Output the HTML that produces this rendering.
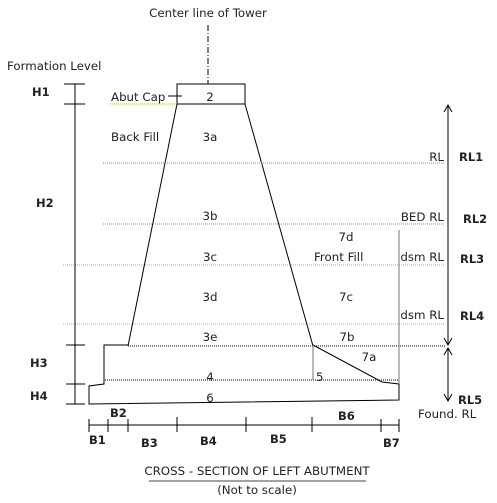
<!DOCTYPE html>
<html><head><meta charset="utf-8"><style>
html,body{margin:0;padding:0;background:#fff;}
svg{display:block;font-family:"DejaVu Sans","Liberation Sans",sans-serif;}
text{font-size:11.8px;fill:#222;}
.b{font-weight:bold;font-size:11.5px;}
</style></head><body>
<svg width="497" height="503" viewBox="0 0 497 503">
<g stroke="#000" stroke-width="1" fill="none">
<line x1="208" y1="25" x2="208" y2="84" stroke-dasharray="6,2,1,2"/>
<rect x="177" y="84" width="68" height="20"/>
<line x1="168" y1="96" x2="182" y2="96"/>
<line x1="110" y1="104" x2="177" y2="104" stroke="#9c3" stroke-dasharray="1,1"/>
<line x1="177" y1="104" x2="128" y2="346"/>
<line x1="245" y1="104" x2="313" y2="346"/>
<line x1="103" y1="163" x2="445" y2="163" stroke="#888" stroke-dasharray="1,1"/>
<line x1="103" y1="224" x2="445" y2="224" stroke="#888" stroke-dasharray="1,1"/>
<line x1="63" y1="265" x2="445" y2="265" stroke="#aab" stroke-dasharray="1,1"/>
<line x1="63" y1="324" x2="445" y2="324" stroke="#aab" stroke-dasharray="1,1"/>
<line x1="128" y1="346" x2="445" y2="346" stroke-dasharray="1,1"/>
<line x1="105" y1="380" x2="399" y2="380" stroke-dasharray="1,1"/>
<polyline points="128,345 104,345 104,384 89,386 89,404 399,400 399,384 382,382 313,345"/>
<line x1="313" y1="345" x2="313" y2="380" stroke="#777"/>
<line x1="399" y1="230" x2="399" y2="384" stroke="#777"/>
<line x1="75" y1="84" x2="75" y2="404"/>
<line x1="64" y1="84" x2="85" y2="84"/><line x1="64" y1="104" x2="85" y2="104"/>
<line x1="66" y1="345" x2="85" y2="345"/><line x1="66" y1="384" x2="85" y2="384"/><line x1="66" y1="404" x2="85" y2="404"/>
<line x1="448" y1="105" x2="448" y2="345"/>
<polyline points="444,112 448,105 452,112"/><polyline points="444,338 448,345 452,338"/>
<line x1="448" y1="348" x2="448" y2="401"/>
<polyline points="444,355 448,348 452,355"/><polyline points="444,394 448,401 452,394"/>
<line x1="89" y1="425" x2="399" y2="425"/>
<g>
<line x1="89" y1="419" x2="89" y2="432"/><line x1="108" y1="419" x2="108" y2="432"/>
<line x1="128" y1="419" x2="128" y2="432"/><line x1="177" y1="417" x2="177" y2="432"/>
<line x1="246" y1="417" x2="246" y2="432"/><line x1="312" y1="417" x2="312" y2="432"/>
<line x1="381" y1="419" x2="381" y2="432"/><line x1="399" y1="419" x2="399" y2="432"/>
</g>
<line x1="149" y1="481" x2="366" y2="481" stroke="#444"/>
</g>
<text x="208" y="17" text-anchor="middle">Center line of Tower</text>
<text x="7" y="70">Formation Level</text>
<text class="b" x="32" y="96">H1</text>
<text class="b" x="36" y="207">H2</text>
<text class="b" x="30" y="367">H3</text>
<text class="b" x="30" y="400">H4</text>
<text x="111" y="101">Abut Cap</text>
<text x="210" y="101" text-anchor="middle">2</text>
<text x="111" y="141">Back Fill</text>
<text x="210" y="141" text-anchor="middle">3a</text>
<text x="210" y="220" text-anchor="middle">3b</text>
<text x="210" y="261" text-anchor="middle">3c</text>
<text x="210" y="301" text-anchor="middle">3d</text>
<text x="210" y="341" text-anchor="middle">3e</text>
<text x="210" y="381" text-anchor="middle">4</text>
<text x="210" y="402" text-anchor="middle">6</text>
<text x="316" y="381">5</text>
<text x="346" y="241" text-anchor="middle">7d</text>
<text x="314" y="261">Front Fill</text>
<text x="346" y="301" text-anchor="middle">7c</text>
<text x="347" y="341" text-anchor="middle">7b</text>
<text x="369" y="361" text-anchor="middle">7a</text>
<text x="444" y="161" text-anchor="end">RL</text>
<text x="444" y="221" text-anchor="end">BED RL</text>
<text x="444" y="261" text-anchor="end">dsm RL</text>
<text x="444" y="319" text-anchor="end">dsm RL</text>
<text class="b" x="459" y="161">RL1</text>
<text class="b" x="463" y="223">RL2</text>
<text class="b" x="460" y="263">RL3</text>
<text class="b" x="460" y="320">RL4</text>
<text class="b" x="458" y="404">RL5</text>
<text x="418" y="418">Found. RL</text>
<text class="b" x="89" y="444">B1</text>
<text class="b" x="110" y="417">B2</text>
<text class="b" x="141" y="447">B3</text>
<text class="b" x="200" y="445">B4</text>
<text class="b" x="270" y="443">B5</text>
<text class="b" x="338" y="420">B6</text>
<text class="b" x="383" y="447">B7</text>
<text x="257" y="475" text-anchor="middle">CROSS - SECTION OF LEFT ABUTMENT</text>
<text x="257" y="494" text-anchor="middle">(Not to scale)</text>
</svg>
</body></html>
